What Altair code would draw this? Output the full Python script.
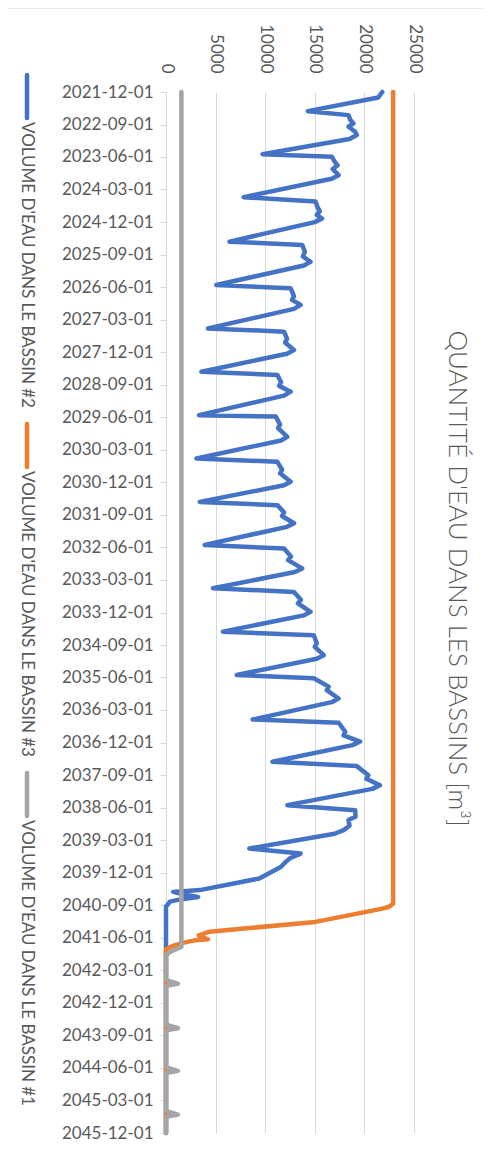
import altair as alt
import pandas as pd

START = "2021-12-01"

AXIS_DATES = [
    "2021-12-01", "2022-09-01", "2023-06-01", "2024-03-01", "2024-12-01",
    "2025-09-01", "2026-06-01", "2027-03-01", "2027-12-01", "2028-09-01",
    "2029-06-01", "2030-03-01", "2030-12-01", "2031-09-01", "2032-06-01",
    "2033-03-01", "2033-12-01", "2034-09-01", "2035-06-01", "2036-03-01",
    "2036-12-01", "2037-09-01", "2038-06-01", "2039-03-01", "2039-12-01",
    "2040-09-01", "2041-06-01", "2042-03-01", "2042-12-01", "2043-09-01",
    "2044-06-01", "2045-03-01", "2045-12-01",
]
VALUE_TICKS = [0, 5000, 10000, 15000, 20000, 25000]

SERIES_NAMES = [
    "VOLUME D'EAU DANS LE BASSIN #2",
    "VOLUME D'EAU DANS LE BASSIN #3",
    "VOLUME D'EAU DANS LE BASSIN #1",
]
SERIES_COLORS = ["#4472C4", "#ED7D31", "#A5A5A5"]

# Bassin #2 (blue): months after 2021-12-01, volume m3
B2_MONTHS = [
    0, 1.5, 5.3,
    6.4, 7.7, 8.7, 9.6, 11.0, 11.9, 13.0,
    17.2, 17.9, 19.3, 20.3, 21.3, 23.0, 24.0,
    29.1, 30.3, 32.0, 33.0, 34.0, 35.0, 36.0,
    41.4, 42.3, 44.2, 45.5, 47.0, 48.0,
    53.4, 54.3, 56.5, 57.5, 58.9, 60.0,
    65.4, 66.3, 68.3, 69.3, 71.4, 72.4,
    77.4, 78.3, 80.3, 81.3, 82.9, 84.0,
    89.4, 89.8, 92.0, 93.0, 95.4, 96.4,
    101.4, 102.3, 104.5, 105.5, 107.8, 108.8,
    113.4, 114.3, 116.3, 117.3, 119.3, 120.3,
    125.3, 126.3, 128.5, 129.5, 131.8, 132.8,
    137.3, 138.3, 140.5, 141.5, 143.8, 144.8,
    149.3, 150.3, 152.5, 153.5, 155.8, 156.8,
    161.3, 162.2, 164.5, 165.5, 167.8, 168.8,
    173.6, 174.5, 177.0, 178.0, 179.7, 180.7,
    185.3, 186.5, 189.0, 190.0, 191.8, 192.8,
    197.3, 198.7, 200.5, 201.4, 203.0, 204.2, 205.2,
    209.3, 210.7, 212.0, 213.0, 214.4, 217.6,
    220.8, 221.3, 222.0, 222.7, 223.5, 224.0, 225.4, 288,
]
B2_VALUES = [
    21800, 21400, 14300,
    18400, 18570, 18900, 18400, 19070, 19230, 18500,
    9730, 16730, 17000, 17300, 16800, 17400, 16700,
    7830, 15070, 15300, 15500, 15200, 15730, 15000,
    6400, 13730, 14000, 13800, 14570, 13900,
    5070, 12570, 12900, 12700, 13570, 12900,
    4230, 11900, 12200, 12000, 12900, 12200,
    3570, 11230, 11600, 11400, 12570, 11900,
    3330, 11070, 11500, 11300, 12230, 11600,
    3070, 11230, 11700, 11500, 12570, 11900,
    3400, 11230, 11900, 11700, 12900, 12200,
    3900, 11900, 12600, 12300, 13730, 13000,
    4730, 12900, 13600, 13300, 14570, 13900,
    5730, 14900, 15200, 15000, 15900, 15200,
    7130, 14900, 16400, 16200, 17400, 16700,
    8730, 17400, 18070, 17900, 19570, 18800,
    10730, 19230, 20400, 20200, 21570, 20800,
    12230, 19070, 19100, 18400, 18500, 17900, 17000,
    8400, 13570, 12500, 12070, 11570, 9400,
    3400, 730, 1800, 3230, 1200, 400, 0, 0,
]

# Bassin #3 (orange)
B3_MONTHS = [0, 224.5, 225.4, 226.0, 229.6, 231.3, 232.3, 233.3, 233.9,
             234.4, 234.7, 235.4, 236.3, 237.2, 288]
B3_VALUES = [22900, 22900, 22500, 21700, 15070, 8400, 4400, 3300, 3700,
             4230, 2900, 1700, 600, 0, 0]

# Bassin #1 (gray)
B1_MONTHS = [0, 236.5, 237.9, 238.8, 245.7, 246.7, 247.3, 258.0, 259.0, 259.6,
             269.8, 270.8, 271.4, 281.9, 282.9, 283.5, 288]
B1_VALUES = [1550, 1550, 400, 0, 0, 1200, 0, 0, 1200, 0,
             0, 1200, 0, 0, 1200, 0, 0]


def to_df(months, values, name):
    start = pd.Timestamp(START)
    dates = [start + pd.Timedelta(days=m * 30.4375) for m in months]
    return pd.DataFrame({"date": dates, "value": values, "series": name})


def dt(s):
    y, m, d = (int(p) for p in s.split("-"))
    return alt.DateTime(year=y, month=m, date=d)


FONT = "Lato"
LABEL_COLOR = "#595959"
GRID = "#D9D9D9"

X = alt.X(
    "value:Q",
    scale=alt.Scale(domain=[VALUE_TICKS[0], VALUE_TICKS[-1]], nice=False),
    axis=alt.Axis(
        orient="top", values=VALUE_TICKS, format="d", labelAngle=90,
        labelAlign="right", labelBaseline="middle", labelPadding=19,
        ticks=False, domain=False, grid=True, gridColor=GRID, gridWidth=1,
        labelFont=FONT, labelFontSize=17, labelColor=LABEL_COLOR,
    ),
    title=None,
)
Y = alt.Y(
    "date:T",
    scale=alt.Scale(domain=[dt(AXIS_DATES[0]), dt(AXIS_DATES[-1])], reverse=True, nice=False),
    axis=alt.Axis(
        orient="left", values=[dt(s) for s in AXIS_DATES], format="%Y-%m-%d",
        grid=False, domain=True, domainColor=GRID, domainWidth=1,
        ticks=True, tickColor=GRID, tickSize=6, labelPadding=7,
        labelOverlap=False, labelFont=FONT, labelFontSize=17, labelColor=LABEL_COLOR,
    ),
    title=None,
)

layers = []
for months, values, name, color in [
    (B2_MONTHS, B2_VALUES, SERIES_NAMES[0], SERIES_COLORS[0]),
    (B3_MONTHS, B3_VALUES, SERIES_NAMES[1], SERIES_COLORS[1]),
    (B1_MONTHS, B1_VALUES, SERIES_NAMES[2], SERIES_COLORS[2]),
]:
    layers.append(
        alt.Chart(to_df(months, values, name))
        .mark_line(color=color, strokeWidth=4.5, strokeCap="round", strokeJoin="round")
        .encode(x=X, y=Y)
    )

# chart-area border line along the top
layers.append(
    alt.Chart(pd.DataFrame({"k": [0]})).mark_rule(color=GRID, strokeWidth=1).encode(
        x=alt.value(-158), x2=alt.value(328), y=alt.value(-84)
    )
)

# rotated legend on the left
LEG_X = -139
LEG_KEY_Y = [-17, 332, 681]
KEY_LEN = 43
for name, color, ky in zip(SERIES_NAMES, SERIES_COLORS, LEG_KEY_Y):
    d = pd.DataFrame({"label": [name]})
    layers.append(
        alt.Chart(d).mark_rule(color=color, strokeWidth=4.5, strokeCap="round").encode(
            x=alt.value(LEG_X), y=alt.value(ky), y2=alt.value(ky + KEY_LEN)
        )
    )
    layers.append(
        alt.Chart(d).mark_text(
            angle=90, align="left", baseline="middle", font=FONT, fontSize=17,
            color=LABEL_COLOR,
        ).encode(text="label:N", x=alt.value(LEG_X), y=alt.value(ky + KEY_LEN + 4))
    )

chart = (
    alt.layer(*layers)
    .properties(
        width=248,
        height=1041,
        autosize=alt.AutoSizeParams(type="none"),
        padding={"left": 158, "top": 84, "right": 70, "bottom": 10},
        title=alt.TitleParams(
            text="QUANTITÉ D'EAU DANS LES BASSINS [m³]", orient="right", anchor="middle",
            font=FONT, fontSize=26, fontWeight=300, color=LABEL_COLOR, offset=-51, dx=-34,
        ),
        background="white",
    )
    .configure_view(stroke=None)
)

chart.save("out.html", embed_options={"renderer": "svg", "actions": False})
